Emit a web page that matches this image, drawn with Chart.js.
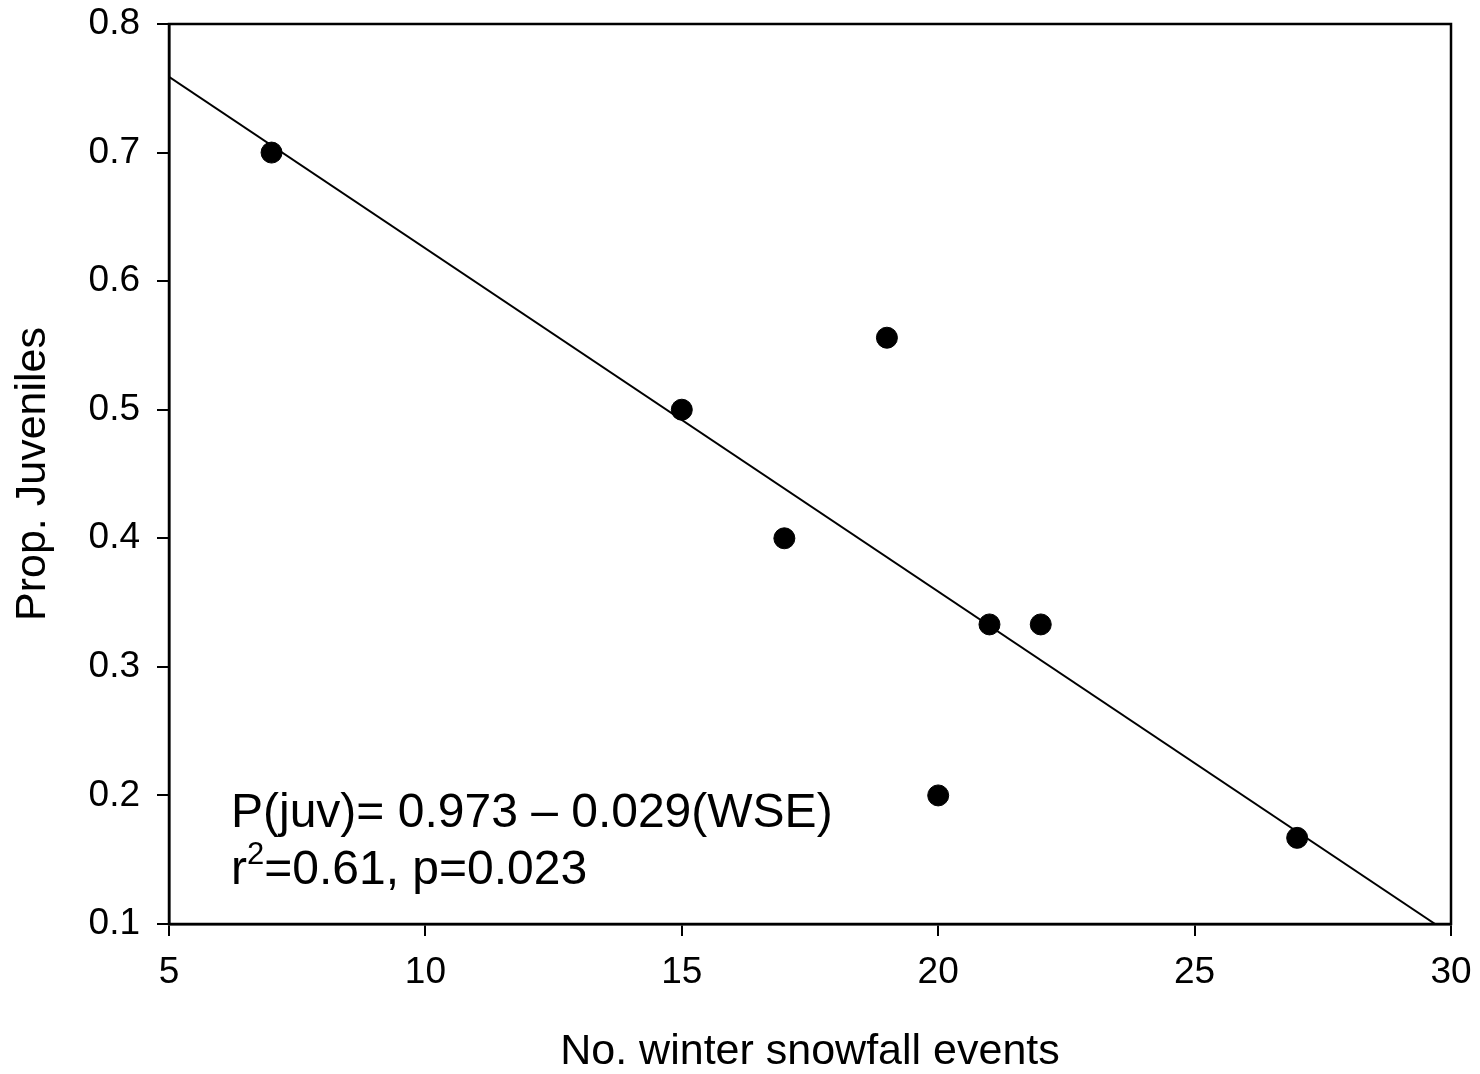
<!DOCTYPE html>
<html>
<head>
<meta charset="utf-8">
<script src="https://cdn.jsdelivr.net/npm/chart.js@4.4.0/dist/chart.umd.min.js"></script>
<style>
  body { margin: 0; background: #fff; }
  #wrap { width: 1480px; height: 1074px; }
</style>
</head>
<body>
<div id="wrap"><canvas id="myChart"></canvas></div>
<script>
// snowfall events vs proportion of juveniles
var snowEvents = [7, 15, 17, 19, 20, 21, 22, 27];
var propJuv = [0.70, 0.50, 0.40, 0.556, 0.20, 0.333, 0.333, 0.167];
var xTicks = [5, 10, 15, 20, 25, 30];
var yTicks = [0.1, 0.2, 0.3, 0.4, 0.5, 0.6, 0.7, 0.8];
var eqLines = ['P(juv)= 0.973 \u2013 0.029(WSE)', 'r\u00b2=0.61, p=0.023'];

// least squares fit of the points, drawn from x=5 until it reaches y=0.1
var n = snowEvents.length, mx = 0, my = 0;
for (var i = 0; i < n; i++) { mx += snowEvents[i]; my += propJuv[i]; }
mx /= n; my /= n;
var sxx = 0, sxy = 0;
for (var i = 0; i < n; i++) {
    sxx += (snowEvents[i] - mx) * (snowEvents[i] - mx);
    sxy += (snowEvents[i] - mx) * (propJuv[i] - my);
}
var slope = sxy / sxx;
var icpt = my - slope * mx;
var xEnd = (0.1 - icpt) / slope;
var fitLine = [{x: 5, y: icpt + slope * 5}, {x: xEnd, y: 0.1}];

var fnt = '"Liberation Sans", Arial, sans-serif';

var frame = {
    id: 'frame',
    afterDraw: function(chart) {
        var c = chart.ctx, a = chart.chartArea;
        c.save();
        c.strokeStyle = '#000';
        c.lineWidth = 2.5;
        c.strokeRect(a.left, a.top, a.right - a.left, a.bottom - a.top);
        c.fillStyle = '#000';
        c.font = '48px ' + fnt;
        c.textBaseline = 'alphabetic';
        c.textAlign = 'left';
        var x0 = a.left + 62;
        c.fillText(eqLines[0], x0, 827);
        // superscript done by hand
        var r = 'r', rest = eqLines[1].substring(2);
        c.fillText(r, x0, 884);
        var w = c.measureText(r).width;
        c.font = '31px ' + fnt;
        c.fillText('2', x0 + w, 864);
        var w2 = c.measureText('2').width;
        c.font = '48px ' + fnt;
        c.fillText(rest, x0 + w + w2, 884);
        c.restore();
    }
};

var ctx = document.getElementById('myChart').getContext('2d');
var myChart = new Chart(ctx, {
    type: 'scatter',
    data: {
        datasets: [{
            data: snowEvents.map(function(v, i) { return {x: v, y: propJuv[i]}; }),
            backgroundColor: '#000',
            borderColor: '#000',
            pointRadius: 10.5,
            pointHoverRadius: 10.5
        }, {
            type: 'line',
            data: fitLine,
            borderColor: '#000',
            borderWidth: 2,
            pointRadius: 0,
            fill: false
        }]
    },
    options: {
        responsive: true,
        maintainAspectRatio: false,
        animation: false,
        layout: { padding: { top: 24, right: 29, left: 0, bottom: 0 } },
        plugins: { legend: { display: false }, tooltip: { enabled: false } },
        scales: {
            x: {
                type: 'linear',
                min: 5, max: 30,
                afterFit: function(s) { s.height = 150; s.paddingLeft = 0; s.paddingRight = 0; },
                afterBuildTicks: function(s) { s.ticks = xTicks.map(function(v) { return {value: v}; }); },
                grid: { drawOnChartArea: false, drawTicks: true, tickLength: 12, color: '#000', lineWidth: 2 },
                border: { display: true, color: '#000', width: 2.5 },
                ticks: { color: '#000', padding: 15, font: { family: fnt, size: 37 } },
                title: { display: true, text: 'No. winter snowfall events', color: '#000',
                         font: { family: fnt, size: 43, lineHeight: 1 }, padding: { top: 0, bottom: 0 } }
            },
            y: {
                min: 0.1, max: 0.8,
                afterFit: function(s) { s.width = 169; s.paddingTop = 0; s.paddingBottom = 0; },
                afterBuildTicks: function(s) { s.ticks = yTicks.map(function(v) { return {value: v}; }); },
                grid: { drawOnChartArea: false, drawTicks: true, tickLength: 12, color: '#000', lineWidth: 2 },
                border: { display: true, color: '#000', width: 2.5 },
                ticks: { color: '#000', padding: 17, font: { family: fnt, size: 37 },
                         callback: function(v) { return v.toFixed(1); } },
                title: { display: true, text: 'Prop. Juveniles', color: '#000',
                         font: { family: fnt, size: 43, lineHeight: 1 }, padding: { top: 12, bottom: 0 } }
            }
        }
    },
    plugins: [frame]
});
</script>
</body>
</html>
